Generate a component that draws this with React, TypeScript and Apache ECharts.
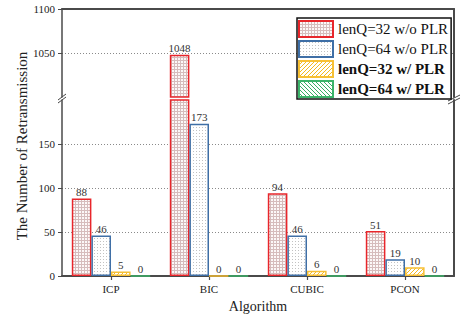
import React, { useEffect, useRef } from "react";
import * as echarts from "echarts";

const categories = ["ICP", "BIC", "CUBIC", "PCON"];
const seriesNames = ["lenQ=32 w/o PLR", "lenQ=64 w/o PLR", "lenQ=32 w/ PLR", "lenQ=64 w/ PLR"];
const lenQ32NoPLR = [88, 1048, 94, 51];
const lenQ64NoPLR = [46, 173, 46, 19];
const lenQ32PLR = [5, 0, 6, 10];
const lenQ64PLR = [0, 0, 0, 0];
const lowerTicks = [0, 50, 100, 150];
const upperTicks = [1050, 1100];
const lowerRange = [0, 200];
const upperRange = [1000, 1100];

const FONT = "'Liberation Serif', 'Times New Roman', serif";

const borderColors = ["#e8262b", "#3f6fa6", "#f7c035", "#3cb46a"];

function makePattern(kind: number): any {
  const size = kind <= 1 ? 3 : 4;
  const c = document.createElement("canvas");
  c.width = size;
  c.height = size;
  const ctx = c.getContext("2d")!;
  if (kind === 0) {
    ctx.fillStyle = "#fcf8f8";
    ctx.fillRect(0, 0, size, size);
    ctx.fillStyle = "#d6bcbc";
    ctx.fillRect(0, 0, size, 1);
    ctx.fillRect(0, 0, 1, size);
  } else if (kind === 1) {
    ctx.fillStyle = "#ffffff";
    ctx.fillRect(0, 0, size, size);
    ctx.fillStyle = "#c2c2c2";
    ctx.fillRect(1, 1, 1, 1);
  } else {
    ctx.fillStyle = "#ffffff";
    ctx.fillRect(0, 0, size, size);
    ctx.fillStyle = kind === 2 ? "#f4b91f" : "#36ad64";
    for (let x = 0; x < size; x++) {
      const y = kind === 2 ? size - 1 - x : x;
      ctx.fillRect(x, y, 1, 1);
    }
  }
  return { image: c, repeat: "repeat", imageWidth: size, imageHeight: size };
}

export default function App() {
  const ref = useRef<HTMLDivElement>(null);
  useEffect(() => {
    if (!ref.current) return;
    document.body.style.margin = "0";
    const chart = echarts.init(ref.current, null, { renderer: "svg" });
    const allData = [lenQ32NoPLR, lenQ64NoPLR, lenQ32PLR, lenQ64PLR];
    const axisColor = "#4a4a4a";
    const labelStyle = { fontFamily: FONT, fontSize: 11, color: "#222" };
    const splitLine = { show: true, lineStyle: { type: [1, 2], color: "#8a8a8a", width: 1 } };
    const fmt = (v: number) => String(v);

    const series: any[] = [];
    allData.forEach((vals, i) => {
      const common = {
        type: "bar",
        name: seriesNames[i],
        barGap: "0%",
        barCategoryGap: "20%",
        clip: true,
        itemStyle: { color: makePattern(i), borderColor: borderColors[i], borderWidth: 1.5 },
        label: { show: true, position: "top", distance: 1, ...labelStyle, color: "#333" },
      };
      series.push({
        ...common,
        xAxisIndex: 0,
        yAxisIndex: 0,
        data: vals.map((v) => (v > upperRange[0] ? v : "-")),
      });
      series.push({
        ...common,
        xAxisIndex: 1,
        yAxisIndex: 1,
        data: vals.map((v) => (v > lowerRange[1] ? { value: v, label: { show: false } } : v)),
      });
    });

    const option: any = {
      animation: false,
      grid: [
        { left: 62, right: 7, top: 9, height: 88, outerBoundsMode: "none" },
        { left: 62, right: 7, top: 100, height: 176, outerBoundsMode: "none" },
      ],
      legend: {
        orient: "vertical",
        left: 297,
        top: 18,
        itemWidth: 34,
        itemHeight: 16,
        itemGap: 2,
        padding: [2, 3, 1, 1],
        borderColor: "#111",
        borderWidth: 1.5,
        backgroundColor: "#fff",
        icon: "rect",
        data: seriesNames,
        formatter: (name: string) => (name.indexOf("w/ ") >= 0 ? `{b|${name}}` : `{n|${name}}`),
        textStyle: {
          fontFamily: FONT,
          fontSize: 15,
          color: "#111",
          rich: {
            b: { fontFamily: FONT, fontSize: 15, fontWeight: "bold", color: "#111" },
            n: { fontFamily: FONT, fontSize: 15, color: "#111" },
          },
        },
      },
      xAxis: [
        {
          gridIndex: 0,
          type: "category",
          data: categories,
          position: "top",
          axisLine: { show: true, lineStyle: { color: axisColor, width: 2 } },
          axisTick: { show: false },
          axisLabel: { show: false },
        },
        {
          gridIndex: 1,
          type: "category",
          data: categories,
          axisLine: { show: true, lineStyle: { color: axisColor, width: 2 } },
          axisTick: { show: true, alignWithLabel: true, length: 4, lineStyle: { color: axisColor, width: 1.2 } },
          axisLabel: { ...labelStyle, margin: 7 },
          name: "Algorithm",
          nameLocation: "middle",
          nameGap: 23,
          nameTextStyle: { fontFamily: FONT, fontSize: 14, color: "#222" },
        },
      ],
      yAxis: [
        {
          gridIndex: 0,
          type: "value",
          min: upperRange[0],
          max: upperRange[1],
          interval: 25,
          axisLine: { show: true, lineStyle: { color: axisColor, width: 1.5 } },
          axisTick: { show: true, length: 4, customValues: upperTicks, lineStyle: { color: axisColor } },
          axisLabel: { ...labelStyle, margin: 7, customValues: upperTicks, formatter: fmt },
          splitLine,
        },
        {
          gridIndex: 1,
          type: "value",
          min: lowerRange[0],
          max: lowerRange[1],
          interval: 25,
          axisLine: { show: true, lineStyle: { color: axisColor, width: 1.5 } },
          axisTick: { show: true, length: 4, customValues: lowerTicks, lineStyle: { color: axisColor } },
          axisLabel: { ...labelStyle, margin: 7, customValues: lowerTicks, formatter: fmt },
          splitLine,
        },
        {
          gridIndex: 0,
          type: "value",
          position: "right",
          min: upperRange[0],
          max: upperRange[1],
          axisLine: { show: true, lineStyle: { color: axisColor, width: 2 } },
          axisTick: { show: false },
          axisLabel: { show: false },
          splitLine: { show: false },
        },
        {
          gridIndex: 1,
          type: "value",
          position: "right",
          min: lowerRange[0],
          max: lowerRange[1],
          axisLine: { show: true, lineStyle: { color: axisColor, width: 2 } },
          axisTick: { show: false },
          axisLabel: { show: false },
          splitLine: { show: false },
        },
      ],
      graphic: [
        {
          type: "text",
          x: 22,
          y: 146,
          rotation: Math.PI / 2,
          style: {
            text: "The Number of Retransmission",
            font: `15px ${FONT}`,
            fill: "#222",
            align: "center",
            verticalAlign: "middle",
          },
        },
        { type: "line", shape: { x1: 58, y1: 100, x2: 66, y2: 94 }, style: { stroke: "#444", lineWidth: 1 } },
        { type: "line", shape: { x1: 58, y1: 103, x2: 66, y2: 97 }, style: { stroke: "#444", lineWidth: 1 } },
        { type: "line", shape: { x1: 448, y1: 101, x2: 460, y2: 95 }, style: { stroke: "#444", lineWidth: 1 } },
        { type: "line", shape: { x1: 448, y1: 104, x2: 460, y2: 98 }, style: { stroke: "#444", lineWidth: 1 } },
      ],
      series,
    };
    chart.setOption(option);
    return () => chart.dispose();
  }, []);
  return <div ref={ref} style={{ width: 461, height: 320 }} />;
}
